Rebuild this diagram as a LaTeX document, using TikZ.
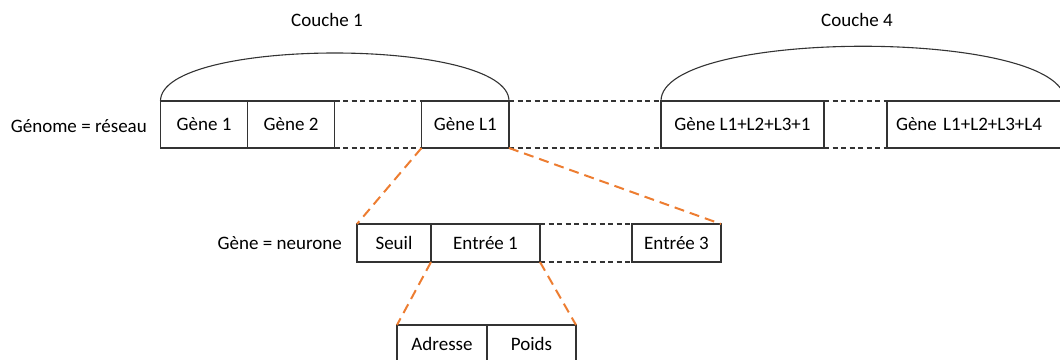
\documentclass[tikz,border=0pt]{standalone}
\usepackage{fontspec}
\setmainfont{Carlito}
\usetikzlibrary{calc}
\definecolor{linegray}{HTML}{333333}
\definecolor{linkorange}{HTML}{ED7D31}
\begin{document}
\begin{tikzpicture}[x=1pt,y=-1pt,
  font=\fontsize{19}{22}\selectfont,
  cell/.style={draw=linegray, line width=1.1pt, inner sep=0pt, outer sep=0pt,
               anchor=north west, minimum height=47pt},
  cellmid/.style={cell, minimum height=38pt},
  celllow/.style={cell, minimum height=38pt},
  gap/.style={draw=linegray, line width=1.1pt, dash pattern=on 5pt off 3.5pt},
  zoomlink/.style={draw=linkorange, line width=2pt, dash pattern=on 10pt off 6pt},
  layerarc/.style={draw=linegray, line width=1.1pt},
  caption/.style={inner sep=0pt}]
\useasboundingbox (0,0) rectangle (1060,359);
\clip (0,0) rectangle (1060,359);

% genome row
\node[caption, anchor=east] (genome) at (147,126) {Génome = réseau};
\node[cell, minimum width=87pt]   (g1)  at (160.5,101) {Gène 1};
\node[cell, minimum width=87pt]   (g2)  at (247.5,101) {Gène 2};
\node[cell, minimum width=87.5pt] (gL1) at (421.5,101) {Gène L1};
\node[cell, minimum width=163pt]  (gA)  at (661,101)   {Gène L1+L2+L3+1};
\node[cell, text width=160pt, align=left, inner xsep=9pt] (gB) at (887,101) {\mbox{Gène L1+L2+L3+L4}};

\draw[gap] (g2.north east) -- (gL1.north west);
\draw[gap] (g2.south east) -- (gL1.south west);
\draw[gap] (gL1.north east) -- (gA.north west);
\draw[gap] (gL1.south east) -- (gA.south west);
\draw[gap] (gA.north east) -- (gB.north west);
\draw[gap] (gA.south east) -- (gB.south west);

% layers
\draw[layerarc] (g1.north west) .. controls ($(g1.north west)+(0,-64)$) and ($(gL1.north east)+(0,-64)$) .. (gL1.north east);
\draw[layerarc] (gA.north west) .. controls ($(gA.north west)+(0,-73)$) and ($(gB.north east)+(0,-73)$) .. (gB.north east);
\node[caption] (c1) at (327,20) {Couche 1};
\node[caption] (c4) at (857,20) {Couche 4};

% neuron row
\node[caption, anchor=east] (neurone) at (342,243) {Gène = neurone};
\node[cellmid, minimum width=74pt]  (seuil) at (357,224) {Seuil};
\node[cellmid, minimum width=109pt] (e1)    at (431,224) {Entrée 1};
\node[cellmid, minimum width=89pt]  (e3)    at (632,224) {Entrée 3};
\draw[gap] (e1.north east) -- (e3.north west);
\draw[gap] (e1.south east) -- (e3.south west);

% input row
\node[celllow, minimum width=90pt] (adr)   at (397,325) {Adresse};
\node[celllow, minimum width=89pt] (poids) at (487,325) {Poids};

% zoom links
\draw[zoomlink] (gL1.south west) -- (seuil.north west);
\draw[zoomlink] (gL1.south east) -- (e3.north east);
\draw[zoomlink] (e1.south west) -- (adr.north west);
\draw[zoomlink] (e1.south east) -- (poids.north east);
\end{tikzpicture}
\end{document}
